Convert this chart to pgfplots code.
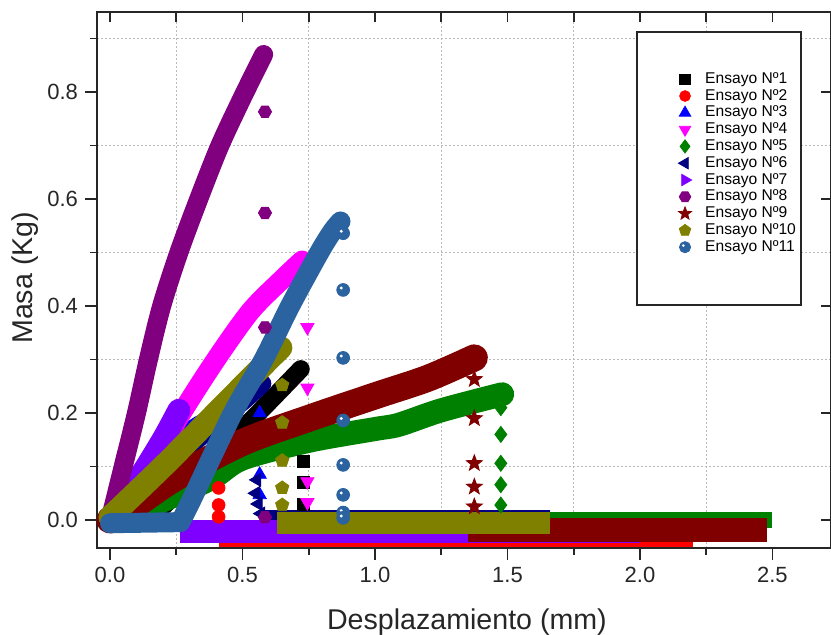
\documentclass[border=0pt]{standalone}
\usepackage{fontspec}
\setmainfont{Liberation Sans}
\usepackage{pgfplots}
\pgfplotsset{compat=1.18}
\usetikzlibrary{plotmarks}

\definecolor{cnavy}{HTML}{000080}
\definecolor{cviolet}{HTML}{8000FF}
\definecolor{cpurple}{HTML}{800080}
\definecolor{cdarkred}{HTML}{800000}
\definecolor{colive}{HTML}{808000}
\definecolor{cgreen}{HTML}{008000}
\definecolor{cmag}{HTML}{FF00FF}
\definecolor{cblue}{HTML}{0000FF}
\definecolor{cred}{HTML}{FF0000}
\definecolor{csteel}{RGB}{43,98,160}

% filled star and hexagon marks (Origin style)
\pgfdeclareplotmark{fstar}{%
  \pgfpathmoveto{\pgfpointpolar{90}{\pgfplotmarksize}}%
  \pgfpathlineto{\pgfpointpolar{126}{0.42\pgfplotmarksize}}%
  \pgfpathlineto{\pgfpointpolar{162}{\pgfplotmarksize}}%
  \pgfpathlineto{\pgfpointpolar{198}{0.42\pgfplotmarksize}}%
  \pgfpathlineto{\pgfpointpolar{234}{\pgfplotmarksize}}%
  \pgfpathlineto{\pgfpointpolar{270}{0.42\pgfplotmarksize}}%
  \pgfpathlineto{\pgfpointpolar{306}{\pgfplotmarksize}}%
  \pgfpathlineto{\pgfpointpolar{342}{0.42\pgfplotmarksize}}%
  \pgfpathlineto{\pgfpointpolar{18}{\pgfplotmarksize}}%
  \pgfpathlineto{\pgfpointpolar{54}{0.42\pgfplotmarksize}}%
  \pgfpathclose\pgfusepathqfillstroke}
\pgfdeclareplotmark{hexa}{%
  \pgfpathmoveto{\pgfpointpolar{0}{\pgfplotmarksize}}%
  \pgfpathlineto{\pgfpointpolar{60}{\pgfplotmarksize}}%
  \pgfpathlineto{\pgfpointpolar{120}{\pgfplotmarksize}}%
  \pgfpathlineto{\pgfpointpolar{180}{\pgfplotmarksize}}%
  \pgfpathlineto{\pgfpointpolar{240}{\pgfplotmarksize}}%
  \pgfpathlineto{\pgfpointpolar{300}{\pgfplotmarksize}}%
  \pgfpathclose\pgfusepathqfillstroke}
% round dot with a small white highlight
\pgfdeclareplotmark{shiny}{%
  \pgfpathcircle{\pgfpointorigin}{\pgfplotmarksize}%
  \pgfusepathqfillstroke
  \begin{pgfscope}%
  \pgfsetfillcolor{white}%
  \pgfpathcircle{\pgfpoint{-0.3\pgfplotmarksize}{0.3\pgfplotmarksize}}{0.25\pgfplotmarksize}%
  \pgfusepathqfill
  \end{pgfscope}}

\pgfplotsset{
  band/.style={line width=#1, line cap=round, line join=round, no marks, smooth, tension=0.5, forget plot},
  base/.style={line width=#1, line cap=butt, no marks, forget plot},
  drops/.style={only marks, forget plot},
}

\begin{document}
\begin{tikzpicture}
\useasboundingbox (-48.5pt,-43.5pt) rectangle (367pt,274pt);
\begin{axis}[
    at={(0,0)}, anchor=south west,
    scale only axis,
    width=367pt, height=268pt,
    xmin=-0.049, xmax=2.721,
    ymin=-0.0523, ymax=0.9495,
    xtick={0,0.5,1,1.5,2,2.5},
    ytick={0,0.2,0.4,0.6,0.8},
    minor xtick={0.25,0.75,1.25,1.75,2.25},
    minor ytick={0.1,0.3,0.5,0.7,0.9},
    xtick pos=left, ytick pos=left,
    tick align=outside,
    major tick length=6pt, minor tick length=3.5pt,
    tick style={black!85, line width=0.9pt},
    axis line style={black!85, line width=1.1pt},
    grid=minor,
    minor grid style={gray!55, dash pattern=on 0.8pt off 1.2pt, line width=0.5pt},
    /pgf/number format/.cd, fixed, fixed zerofill, precision=1, assume math mode=true,
    /pgfplots/.cd,
    tick label style={font=\fontsize{11}{13}\selectfont, text=black!85},
    xlabel={Desplazamiento (mm)},
    ylabel={Masa (Kg)},
    xlabel style={font=\fontsize{14.3}{17}\selectfont, text=black!85,
      at={(axis description cs:0.504,-0.153)}, anchor=base},
    ylabel style={font=\fontsize{14.3}{17}\selectfont, text=black!85,
      at={(axis description cs:-0.098,0.504)}, anchor=center},
    legend image code/.code={\draw[#1] plot coordinates {(0pt,0pt)};},
    legend cell align=left,
    legend style={draw=none, fill=none, at={(0.7916,0.891)}, anchor=north west,
      inner sep=0pt, row sep=0pt,
      font=\fontsize{7.8}{9.6}\selectfont,
      nodes={inner sep=0.5pt, text height=5.7pt, text depth=1.7pt},
      /tikz/every odd column/.append style={column sep=6.3pt}},
  ]

  % legend entries
  \addlegendimage{only marks, mark=square*, black, mark size=2.6pt}
  \addlegendentry{Ensayo Nº1}
  \addlegendimage{only marks, mark=*, cred, mark size=2.7pt}
  \addlegendentry{Ensayo Nº2}
  \addlegendimage{only marks, mark=triangle*, cblue, mark size=3.3pt}
  \addlegendentry{Ensayo Nº3}
  \addlegendimage{only marks, mark=triangle*, cmag, mark size=3.3pt, mark options={rotate=180}}
  \addlegendentry{Ensayo Nº4}
  \addlegendimage{only marks, mark=diamond*, cgreen, mark size=3.3pt}
  \addlegendentry{Ensayo Nº5}
  \addlegendimage{only marks, mark=triangle*, cnavy, mark size=3.3pt, mark options={rotate=90}}
  \addlegendentry{Ensayo Nº6}
  \addlegendimage{only marks, mark=triangle*, cviolet, mark size=3.3pt, mark options={rotate=-90}}
  \addlegendentry{Ensayo Nº7}
  \addlegendimage{only marks, mark=hexa, cpurple, mark size=2.9pt}
  \addlegendentry{Ensayo Nº8}
  \addlegendimage{only marks, mark=fstar, cdarkred, mark size=3.4pt}
  \addlegendentry{Ensayo Nº9}
  \addlegendimage{only marks, mark=pentagon*, colive, mark size=3pt}
  \addlegendentry{Ensayo Nº10}
  \addlegendimage{only marks, mark=shiny, csteel, mark size=2.8pt}
  \addlegendentry{Ensayo Nº11}

  % Ensayo 1
  \addplot[black, band=9pt] coordinates {(0,0) (0.15,0.005) (0.21,0.03) (0.5,0.17) (0.72,0.282)};
  \addplot[black, drops, mark=square*, mark size=3pt] coordinates {(0.73,0.11) (0.73,0.07) (0.73,0.03)};
  \addplot[black, base=8pt] coordinates {(0.73,0) (2.49,0)};

  % Ensayo 2
  \addplot[cred, drops, mark=*, mark size=3.2pt] coordinates {(0.41,0.06) (0.41,0.028) (0.41,0.006)};
  \addplot[cred, base=6pt] coordinates {(0.41,-0.04) (2.2,-0.04)};

  % Ensayo 3
  \addplot[cblue, band=9pt] coordinates {(0,0) (0.1,0.05) (0.3,0.165) (0.43,0.2) (0.56,0.25)};
  \addplot[cblue, drops, mark=triangle*, mark size=3.8pt] coordinates {(0.565,0.2) (0.565,0.085) (0.565,0.047)};
  \addplot[cblue, base=8pt] coordinates {(0.565,0.003) (1.66,0.003)};

  % Ensayo 4
  \addplot[cmag, band=10pt] coordinates {(0,0) (0.15,0.1) (0.27,0.2) (0.4,0.3) (0.53,0.39) (0.65,0.45) (0.725,0.485)};
  \addplot[cmag, drops, mark=triangle*, mark size=3.8pt, mark options={rotate=180}] coordinates {(0.745,0.36) (0.745,0.247) (0.745,0.072) (0.745,0.033)};

  % Ensayo 5
  \addplot[cgreen, band=12pt] coordinates {(0,0) (0.12,0.02) (0.26,0.05) (0.39,0.08) (0.5,0.115) (0.75,0.148) (1.0,0.17) (1.09,0.178) (1.25,0.205) (1.48,0.235)};
  \addplot[cgreen, drops, mark=diamond*, mark size=4pt] coordinates {(1.475,0.21) (1.475,0.16) (1.475,0.106) (1.475,0.066) (1.475,0.028)};
  \addplot[cgreen, base=8pt] coordinates {(1.47,0) (2.5,0)};

  % Ensayo 6
  \addplot[cnavy, band=9pt] coordinates {(0,0) (0.15,0.06) (0.33,0.15) (0.51,0.225) (0.575,0.255)};
  \addplot[cnavy, drops, mark=triangle*, mark size=3.8pt, mark options={rotate=90}] coordinates {(0.555,0.075) (0.55,0.05) (0.56,0.03) (0.57,0.012)};
  \addplot[cnavy, base=8.5pt] coordinates {(0.575,0.002) (1.66,0.002)};

  % Ensayo 7
  \addplot[cviolet, band=11.5pt] coordinates {(0,0) (0.1,0.07) (0.2,0.15) (0.26,0.205)};
  \addplot[cviolet, base=11.5pt] coordinates {(0.265,-0.0215) (2.0,-0.0215)};

  % Ensayo 8
  \addplot[cpurple, band=9.5pt] coordinates {(0,0) (0.05,0.1) (0.1,0.2) (0.145,0.3) (0.195,0.4) (0.26,0.5) (0.335,0.6) (0.415,0.7) (0.5,0.79) (0.56,0.85) (0.58,0.87)};
  \addplot[cpurple, drops, mark=hexa, mark size=3.3pt] coordinates {(0.585,0.763) (0.585,0.574) (0.585,0.36) (0.585,0.005)};

  % Ensayo 9
  \addplot[cdarkred, band=13.5pt] coordinates {(0,0) (0.1,0.03) (0.25,0.08) (0.5,0.145) (0.75,0.19) (1.0,0.232) (1.2,0.265) (1.375,0.303)};
  \addplot[cdarkred, drops, mark=fstar, mark size=4.2pt] coordinates {(1.375,0.263) (1.375,0.19) (1.375,0.106) (1.375,0.062) (1.375,0.025)};
  \addplot[cdarkred, base=12pt] coordinates {(1.35,-0.019) (2.48,-0.019)};

  % Ensayo 10
  \addplot[colive, band=11.5pt] coordinates {(0,0.005) (0.2,0.1) (0.4,0.2) (0.5,0.25) (0.6,0.3) (0.645,0.322)};
  \addplot[colive, drops, mark=pentagon*, mark size=3.5pt] coordinates {(0.65,0.252) (0.65,0.182) (0.65,0.111) (0.65,0.06) (0.65,0.028)};
  \addplot[colive, base=11pt] coordinates {(0.63,-0.006) (1.66,-0.006)};

  % Ensayo 11 (flat part, then rising band; kept sharp at the knee)
  \addplot[csteel, line width=10pt, line cap=round, line join=round, forget plot] coordinates {(0,-0.006) (0.265,-0.004)};
  \addplot[csteel, band=10pt] coordinates {(0.265,-0.004) (0.31,0.04) (0.464,0.2) (0.58,0.3) (0.68,0.4) (0.79,0.5) (0.84,0.54) (0.87,0.558)};
  \addplot[csteel, drops, mark=shiny, mark size=3.2pt] coordinates {(0.88,0.536) (0.88,0.43) (0.88,0.303) (0.88,0.186) (0.88,0.103) (0.88,0.047) (0.88,0.014) (0.88,0.004)};

  % legend frame
  \draw[black!85, line width=0.9pt, fill=white] (rel axis cs:0.7357,0.9627) rectangle (rel axis cs:0.9591,0.4534);
\end{axis}

% inward ticks on top and right
\begin{axis}[
    at={(0,0)}, anchor=south west,
    scale only axis,
    width=367pt, height=268pt,
    xmin=-0.049, xmax=2.721,
    ymin=-0.0523, ymax=0.9495,
    xtick={0,0.5,1,1.5,2,2.5},
    ytick={0,0.2,0.4,0.6,0.8},
    minor xtick={0.25,0.75,1.25,1.75,2.25},
    xtick pos=right, ytick pos=right,
    tick align=inside,
    major tick length=5pt, minor tick length=5pt,
    tick style={black!85, line width=0.9pt},
    axis line style={draw=none},
    xticklabels={}, yticklabels={},
  ]
\end{axis}
\end{tikzpicture}
\end{document}
